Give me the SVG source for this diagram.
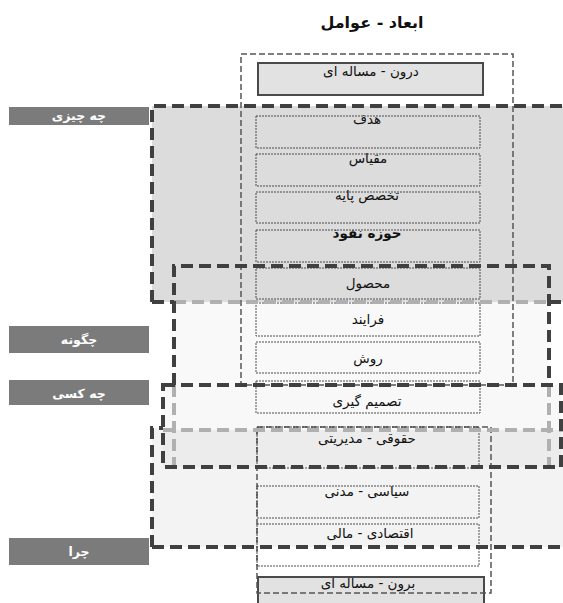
<svg xmlns="http://www.w3.org/2000/svg" width="563" height="603" viewBox="0 0 563 603">
<style>
.dk{fill:none;stroke:#404040;stroke-width:4;stroke-dasharray:12 6}
.lt{fill:none;stroke:#b0b0b0;stroke-width:4;stroke-dasharray:12 6}
.col{fill:none;stroke:#555;stroke-width:1.5;stroke-dasharray:6 3}
.bx{fill:none;stroke:#3a3a3a;stroke-width:0.9;stroke-dasharray:2 1}
.sb{fill:#e2e2e2;stroke:#4a4a4a;stroke-width:2}
.lb{fill:#7b7b7b}
.t{font-family:"DejaVu Sans",sans-serif;font-size:13.5px;fill:#111;text-anchor:middle}
.lt2{font-family:"DejaVu Sans",sans-serif;font-size:12.5px;font-weight:bold;fill:#fff;text-anchor:middle}
.ti{font-family:"DejaVu Sans",sans-serif;font-size:16px;font-weight:bold;fill:#111;text-anchor:middle}
</style>
<rect width="563" height="603" fill="#fff"/>
<text class="ti" x="372" y="28" direction="rtl">ابعاد - عوامل</text>

<g id="backgrounds">
<rect x="152" y="428" width="420" height="119" fill="#f3f3f3"/>
<rect x="152" y="106" width="420" height="196" fill="#dcdcdc"/>
<rect x="174" y="302" width="375" height="83" fill="#f9f9f9"/>
<rect x="163" y="385" width="398" height="45" fill="#f8f8f8"/>
<rect x="163" y="430" width="398" height="37" fill="#ececec"/>
</g>

<g id="columns">
<rect class="col" x="241" y="54" width="272" height="331"/>
<rect class="sb" x="258" y="577" width="226" height="32"/>
<rect class="col" x="257" y="427" width="234" height="166"/>
</g>

<g id="n-daroon"><rect class="sb" x="258" y="63" width="225" height="32"/><text class="t" x="371" y="76" direction="rtl">درون - مساله ای</text></g>
<g id="n-hadaf"><rect class="bx" x="256" y="116" width="224" height="32"/><text class="t" x="367" y="124" direction="rtl">هدف</text></g>
<g id="n-meghyas"><rect class="bx" x="256" y="154" width="224" height="32"/><text class="t" x="368" y="163" direction="rtl">مقیاس</text></g>
<g id="n-takhasos"><rect class="bx" x="256" y="192" width="224" height="31"/><text class="t" x="367" y="200" direction="rtl">تخصص پایه</text></g>
<g id="n-hoze"><rect class="bx" x="256" y="230" width="224" height="32"/><text class="t" x="367" y="238" direction="rtl" font-weight="bold">حوزه نفوذ</text></g>
<g id="n-mahsool"><rect class="bx" x="256" y="268" width="224" height="31"/><text class="t" x="368" y="288" direction="rtl">محصول</text></g>
<g id="n-farayand"><rect class="bx" x="256" y="303" width="224" height="33"/><text class="t" x="368" y="324" direction="rtl">فرایند</text></g>
<g id="n-ravesh"><rect class="bx" x="256" y="342" width="224" height="31"/><text class="t" x="368" y="363" direction="rtl">روش</text></g>
<g id="n-tasmim"><rect class="bx" x="256" y="381" width="224" height="32"/><text class="t" x="367" y="406" direction="rtl">تصمیم گیری</text></g>
<g id="n-hoghooghi"><rect class="bx" x="257" y="427" width="222" height="41"/><text class="t" x="367" y="443" direction="rtl">حقوقی - مدیریتی</text></g>
<g id="n-siyasi"><rect class="bx" x="257" y="486" width="222" height="32"/><text class="t" x="367" y="496" direction="rtl">سیاسی - مدنی</text></g>
<g id="n-eghtesadi"><rect class="bx" x="257" y="524" width="222" height="42"/><text class="t" x="370" y="538" direction="rtl">اقتصادی - مالی</text></g>
<g id="n-biroon"><text class="t" x="368" y="588" direction="rtl">برون - مساله ای</text></g>

<g id="connectors">
<path class="dk" d="M152,302 V106 H566"/>
<path class="dk" d="M152,302 H174"/>
<path class="lt" d="M174,302 H549"/>
<path class="dk" d="M549,302 H566"/>
<path class="dk" d="M174,385 V266 H549 V385"/>
<path class="lt" d="M174,385 V465 M549,385 V465"/>
<path class="dk" d="M152,547 V428 H163"/>
<path class="lt" d="M163,430 H566"/>
<path class="dk" d="M152,547 H566"/>
<path class="dk" d="M163,385 H561 V467 H163 Z"/>
</g>

<g id="l-chechizi"><rect class="lb" x="9" y="107" width="140" height="18"/><text class="lt2" x="79" y="120" direction="rtl">چه چیزی</text></g>
<g id="l-chegoone"><rect class="lb" x="9" y="326" width="140" height="27"/><text class="lt2" x="79" y="344" direction="rtl">چگونه</text></g>
<g id="l-chekasi"><rect class="lb" x="9" y="380" width="140" height="25"/><text class="lt2" x="79" y="398" direction="rtl">چه کسی</text></g>
<g id="l-chera"><rect class="lb" x="9" y="538" width="140" height="27"/><text class="lt2" x="79" y="556" direction="rtl">چرا</text></g>
</svg>
